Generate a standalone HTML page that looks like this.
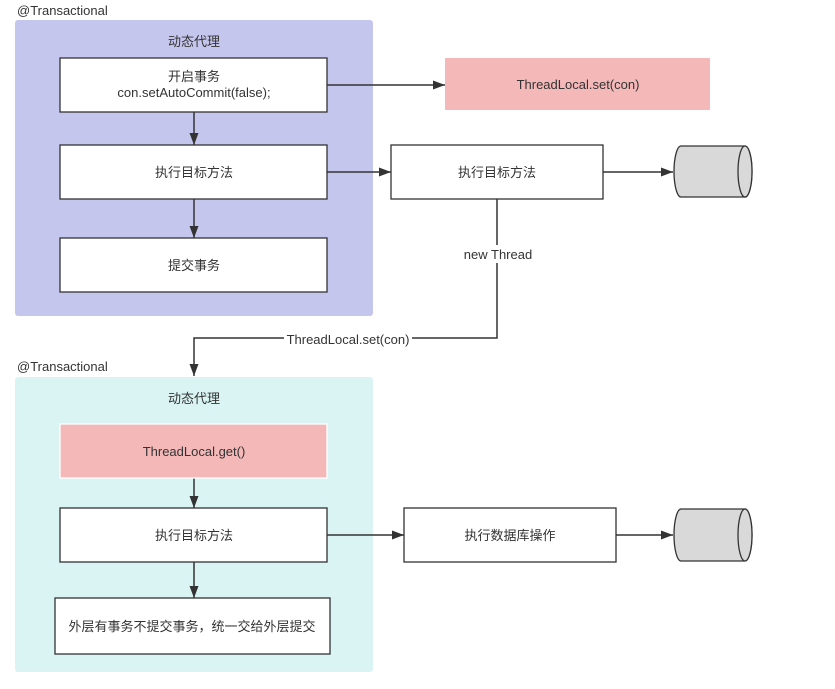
<!DOCTYPE html>
<html><head><meta charset="utf-8"><style>
body{margin:0;background:#fff}
svg{display:block;font-family:"Liberation Sans","Noto Sans CJK SC",sans-serif;font-size:13px}
</style></head><body>
<svg width="835" height="689" viewBox="0 0 835 689" xmlns="http://www.w3.org/2000/svg">
<defs><marker id="a" markerWidth="12" markerHeight="9" refX="12" refY="4.5" orient="auto" markerUnits="userSpaceOnUse"><path d="M0,0 L12,4.5 L0,9 z" fill="#333"/></marker></defs>
<rect x="15" y="20" width="358" height="296" rx="3" fill="#c5c6ee"/>
<rect x="15" y="377" width="358" height="295" rx="3" fill="#d9f4f3"/>
<text x="17" y="15" fill="#333">@Transactional</text>
<text x="194" y="46" text-anchor="middle" fill="#333">动态代理</text>
<text x="17" y="371" fill="#333">@Transactional</text>
<text x="194" y="403" text-anchor="middle" fill="#333">动态代理</text>
<g stroke="#333" stroke-width="1.5" fill="none" marker-end="url(#a)">
<line x1="194" y1="112" x2="194" y2="145"/>
<line x1="194" y1="199" x2="194" y2="238"/>
<line x1="327" y1="85" x2="445" y2="85"/>
<line x1="327" y1="172" x2="391" y2="172"/>
<line x1="603" y1="172" x2="673" y2="172"/>
<path d="M497,199 V338 H194 V376"/>
<line x1="194" y1="478" x2="194" y2="508"/>
<line x1="194" y1="562" x2="194" y2="598"/>
<line x1="327" y1="535" x2="404" y2="535"/>
<line x1="616" y1="535" x2="673" y2="535"/>
</g>
<g stroke="#333" stroke-width="1.3" fill="#fff">
<rect x="60" y="58" width="267" height="54"/>
<rect x="60" y="145" width="267" height="54"/>
<rect x="60" y="238" width="267" height="54"/>
<rect x="391" y="145" width="212" height="54"/>
<rect x="60" y="508" width="267" height="54"/>
<rect x="55" y="598" width="275" height="56"/>
<rect x="404" y="508" width="212" height="54"/>
</g>
<rect x="445" y="58" width="265" height="52" fill="#f4b8b8"/>
<rect x="60" y="424" width="267" height="54" fill="#f4b8b8" stroke="#fff" stroke-width="1.3"/>
<text x="194" y="81" text-anchor="middle" fill="#333">开启事务</text>
<text x="194" y="97" text-anchor="middle" fill="#333">con.setAutoCommit(false);</text>
<text x="194" y="177" text-anchor="middle" fill="#333">执行目标方法</text>
<text x="194" y="270" text-anchor="middle" fill="#333">提交事务</text>
<text x="578" y="89" text-anchor="middle" fill="#333">ThreadLocal.set(con)</text>
<text x="497" y="177" text-anchor="middle" fill="#333">执行目标方法</text>
<rect x="460" y="245" width="76" height="18" fill="#fff"/>
<text x="498" y="259" text-anchor="middle" fill="#333">new Thread</text>
<rect x="284" y="330" width="128" height="18" fill="#fff"/>
<text x="348" y="344" text-anchor="middle" fill="#333">ThreadLocal.set(con)</text>
<g stroke="#333" stroke-width="1.3" fill="#d9d9d9">
<path d="M681,146 H745 A7,25.5 0 0 1 745,197 H681 A7,25.5 0 0 1 681,146 z"/>
<ellipse cx="745" cy="171.5" rx="7" ry="25.5"/>
<path d="M681,509 H745 A7,26 0 0 1 745,561 H681 A7,26 0 0 1 681,509 z"/>
<ellipse cx="745" cy="535" rx="7" ry="26"/>
</g>
<text x="194" y="456" text-anchor="middle" fill="#333">ThreadLocal.get()</text>
<text x="194" y="540" text-anchor="middle" fill="#333">执行目标方法</text>
<text x="192" y="631" text-anchor="middle" fill="#333">外层有事务不提交事务，统一交给外层提交</text>
<text x="510" y="540" text-anchor="middle" fill="#333">执行数据库操作</text>
</svg>
</body></html>
